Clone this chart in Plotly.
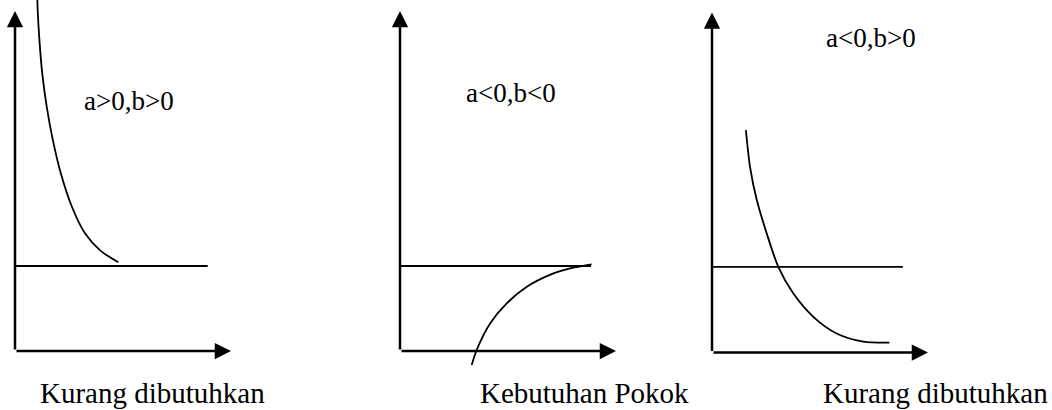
import html
import plotly.graph_objects as go

# nilai-nilai kurva (satuan sumbu: 0..10)
p1_x = [1.03, 1.05, 1.13, 1.26, 1.47, 1.75, 2.12, 2.63, 3.24, 3.94, 4.78]
p1_y = [10.5, 10.03, 9.15, 8.17, 7.18, 6.21, 5.23, 4.25, 3.46, 2.96, 2.61]

p2_x = [3.32, 3.55, 4.17, 4.94, 5.87, 6.94, 8.02, 8.87]
p2_y = [-0.41, 0.03, 0.81, 1.40, 1.89, 2.24, 2.45, 2.55]

p3_x = [1.57, 1.76, 2.07, 2.53, 3.07, 3.76, 4.69, 5.77, 7.00, 8.21]
p3_y = [6.54, 5.46, 4.49, 3.51, 2.52, 1.74, 1.05, 0.56, 0.32, 0.29]

# garis batas horizontal tiap panel
level_y = [2.5, 2.5, 2.52]
level_end = [8.92, 8.84, 8.84]

param_labels = ["a>0,b>0", "a<0,b<0", "a<0,b>0"]
good_labels = ["Kurang dibutuhkan", "Kebutuhan Pokok", "Kurang dibutuhkan"]

curves_x = [p1_x, p2_x, p3_x]
curves_y = [p1_y, p2_y, p3_y]

# tata letak (piksel)
W, H = 1052, 410
X_UNIT, Y_UNIT = 21.6, 34.0
origins = [(15, 351), (400, 351), (712, 352.5)]
param_pos = [(5.30, 7.36), (5.14, 7.60), (7.36, 9.26)]
label_cx = [152.5, 584, 935.5]
label_cy = 393

FONT = "Liberation Serif, Times New Roman, serif"

fig = go.Figure()
layout = {}
annotations = []

for i in range(3):
    ox, oy = origins[i]
    sfx = "" if i == 0 else str(i + 1)
    xa, ya = "x" + sfx, "y" + sfx

    layout["xaxis" + sfx] = dict(
        domain=[(ox - 15) / W, (ox + 250) / W],
        range=[-15 / X_UNIT, 250 / X_UNIT],
        visible=False,
        anchor=ya,
        fixedrange=True,
    )
    layout["yaxis" + sfx] = dict(
        domain=[0, 1],
        range=[-(H - oy) / Y_UNIT, oy / Y_UNIT],
        visible=False,
        anchor=xa,
        fixedrange=True,
    )

    # garis horizontal
    fig.add_trace(
        go.Scatter(
            x=[0, level_end[i]],
            y=[level_y[i], level_y[i]],
            mode="lines",
            line=dict(color="black", width=1.8),
            xaxis=xa,
            yaxis=ya,
            hoverinfo="skip",
        )
    )
    # kurva
    fig.add_trace(
        go.Scatter(
            x=curves_x[i],
            y=curves_y[i],
            mode="lines",
            line=dict(color="black", width=1.8, shape="spline", smoothing=0.8),
            xaxis=xa,
            yaxis=ya,
            hoverinfo="skip",
        )
    )

    # sumbu dengan panah
    for tip, tail in (((10, 0), (0, 0)), ((0, 10), (0, 0))):
        annotations.append(
            dict(
                x=tip[0], y=tip[1], ax=tail[0], ay=tail[1],
                xref=xa, yref=ya, axref=xa, ayref=ya,
                text="", showarrow=True,
                arrowhead=2, arrowsize=1.3, arrowwidth=2.5,
                arrowcolor="black", standoff=0, startstandoff=0,
            )
        )

    # teks parameter
    annotations.append(
        dict(
            x=param_pos[i][0], y=param_pos[i][1], xref=xa, yref=ya,
            text=html.escape(param_labels[i]), showarrow=False,
            xanchor="center", yanchor="middle",
            font=dict(family=FONT, size=27, color="black"),
        )
    )
    # label bawah
    annotations.append(
        dict(
            x=label_cx[i] / W, y=1 - label_cy / H, xref="paper", yref="paper",
            text=good_labels[i], showarrow=False,
            xanchor="center", yanchor="middle",
            font=dict(family=FONT, size=29, color="black"),
        )
    )

fig.update_layout(
    width=W,
    height=H,
    margin=dict(l=0, r=0, t=0, b=0),
    paper_bgcolor="white",
    plot_bgcolor="white",
    showlegend=False,
    annotations=annotations,
    **layout,
)

# halaman tanpa margin bawaan browser
fig.write_html(
    "out.html",
    config={"displayModeBar": False},
    post_script="document.body.style.margin='0';",
)
